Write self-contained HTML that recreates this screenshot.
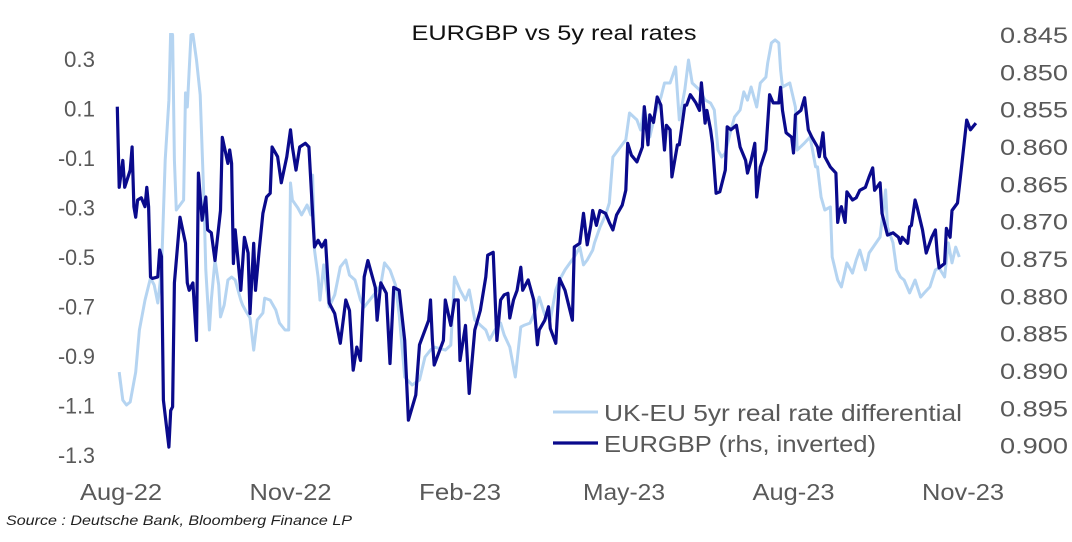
<!DOCTYPE html>
<html><head><meta charset="utf-8"><style>
html,body{margin:0;padding:0;background:#fff;width:1072px;height:542px;overflow:hidden}
svg{display:block;font-family:"Liberation Sans",Arial,sans-serif}
</style></head><body>
<svg id="chart" width="1072" height="542" viewBox="0 0 1072 542">
<defs><clipPath id="plotclip"><rect x="110" y="33" width="880" height="430"/></clipPath></defs>
<text x="554" y="40" text-anchor="middle" font-size="21" textLength="285" lengthAdjust="spacingAndGlyphs" fill="#111">EURGBP vs 5y real rates</text>
<g id="yl"></g>
<g id="yr"></g>
<g id="xa"></g>
<g clip-path="url(#plotclip)">
<path id="lightLine" fill="none" stroke="#b5d4f1" stroke-width="3" stroke-linejoin="round"/>
<path id="darkLine" fill="none" stroke="#0a0a8c" stroke-width="3.2" stroke-linejoin="round"/>
</g>
<g>
<g>
<line x1="553" y1="412" x2="598" y2="412" stroke="#b5d4f1" stroke-width="3"/>
<text x="604" y="421" font-size="23" textLength="358" lengthAdjust="spacingAndGlyphs" fill="#595959">UK-EU 5yr real rate differential</text></g>
<g>
<line x1="553" y1="443" x2="598" y2="443" stroke="#0a0a8c" stroke-width="3.2"/>
<text x="604" y="452" font-size="23" textLength="272" lengthAdjust="spacingAndGlyphs" fill="#595959">EURGBP (rhs, inverted)</text></g>
</g>
<text x="6" y="525" font-size="14" font-style="italic" textLength="346" lengthAdjust="spacingAndGlyphs" fill="#222">Source : Deutsche Bank, Bloomberg Finance LP</text>
</svg>
<script>
const xTickDays=[0,92,184,273,365,457];
const xTickLabels=["Aug-22","Nov-22","Feb-23","May-23","Aug-23","Nov-23"];
const leftTicks=[0.3,0.1,-0.1,-0.3,-0.5,-0.7,-0.9,-1.1,-1.3];
const rightTicks=[0.845,0.850,0.855,0.860,0.865,0.870,0.875,0.880,0.885,0.890,0.895,0.900];
const diffDays=[-1,1,3,5,8,10,13,16,18,20,22,24,26,27,28,29,30,32,34,35,36,38,39,41,43,45,46,48,49,51,53,54,56,58,60,62,65,66,68,70,72,74,77,78,81,84,86,89,91,92,93,96,98,101,103,104,105,107,108,110,111,113,116,119,122,124,127,130,132,135,138,141,143,146,149,151,154,158,162,165,168,170,176,179,181,184,187,189,192,195,198,200,203,206,208,211,214,217,219,222,225,227,230,233,236,238,241,244,246,249,251,253,256,257,260,263,265,267,271,274,276,280,282,284,287,290,293,295,298,301,303,306,308,310,314,317,320,322,324,326,328,331,333,336,338,340,342,345,347,350,351,353,355,357,358,359,363,366,367,371,374,377,378,380,382,385,386,389,391,394,397,399,401,404,406,412,415,416,419,421,423,425,428,431,434,436,439,442,444,447,449,451,453,455];
const diffValues=[-0.965,-1.078,-1.098,-1.086,-0.965,-0.795,-0.674,-0.585,-0.613,-0.686,-0.552,-0.108,0.134,0.417,0.397,-0.108,-0.310,-0.290,-0.270,0.163,0.106,0.397,0.40,0.296,0.155,-0.270,-0.552,-0.795,-0.674,-0.512,-0.613,-0.742,-0.694,-0.593,-0.581,-0.593,-0.674,-0.694,-0.722,-0.746,-0.876,-0.754,-0.726,-0.666,-0.674,-0.714,-0.767,-0.795,-0.795,-0.201,-0.270,-0.302,-0.330,-0.290,-0.330,-0.169,-0.472,-0.581,-0.674,-0.532,-0.593,-0.702,-0.653,-0.540,-0.512,-0.573,-0.593,-0.674,-0.702,-0.674,-0.645,-0.613,-0.524,-0.552,-0.613,-0.734,-0.985,-1.017,-0.997,-0.904,-0.876,-0.864,-0.876,-0.856,-0.581,-0.633,-0.674,-0.633,-0.754,-0.775,-0.795,-0.835,-0.795,-0.767,-0.815,-0.864,-0.985,-0.783,-0.775,-0.767,-0.714,-0.662,-0.734,-0.754,-0.633,-0.593,-0.552,-0.520,-0.500,-0.460,-0.532,-0.512,-0.472,-0.443,-0.379,-0.330,-0.282,-0.096,-0.056,-0.027,0.082,0.054,0.013,0.106,-0.015,0.082,0.146,0.203,0.203,0.268,0.054,0.175,0.296,0.203,0.175,0.134,0.122,0.094,-0.068,-0.096,-0.080,0.013,0.066,0.094,0.167,0.134,0.187,0.106,0.203,0.227,0.284,0.365,0.377,0.365,0.256,0.187,0.203,0.106,-0.068,-0.039,-0.015,-0.136,-0.136,-0.258,-0.310,-0.298,-0.500,-0.593,-0.621,-0.524,-0.565,-0.512,-0.472,-0.552,-0.484,-0.419,-0.229,-0.379,-0.443,-0.552,-0.581,-0.593,-0.645,-0.593,-0.662,-0.645,-0.621,-0.552,-0.544,-0.581,-0.443,-0.524,-0.460,-0.500];
const fxDays=[-2,-1,1,2,5,6,7,8,9,11,13,14,15,16,17,20,21,22,23,26,27,28,29,32,35,36,37,39,41,42,44,46,47,49,51,54,55,58,59,60,61,62,65,67,69,70,72,73,75,77,79,81,82,85,87,90,92,93,95,97,100,102,105,107,109,111,113,116,119,122,124,126,128,130,132,134,138,139,141,144,146,148,151,154,156,160,162,167,168,169,170,173,175,176,179,181,183,184,187,189,192,195,198,199,202,204,206,208,210,211,213,215,217,218,221,224,226,227,230,232,233,236,238,241,245,246,249,251,253,255,256,258,260,263,265,267,269,272,274,275,277,280,283,284,286,287,289,291,293,295,296,298,299,302,303,306,307,309,312,314,315,317,318,320,321,323,325,328,329,331,334,336,339,340,342,344,345,347,350,352,354,357,358,359,361,364,365,366,369,371,373,375,378,379,381,382,385,388,389,390,391,393,394,397,399,401,404,406,408,409,412,413,416,419,422,423,424,427,428,429,431,432,435,437,440,442,443,444,447,448,450,451,454,456,459,461,464];
const fxValues=[0.8546,0.8654,0.8618,0.8654,0.8631,0.8600,0.8680,0.8694,0.8671,0.8668,0.8680,0.8654,0.8680,0.8774,0.8776,0.8774,0.8738,0.8747,0.8939,0.9002,0.8953,0.8948,0.8782,0.8694,0.8729,0.8782,0.8792,0.8782,0.8859,0.8635,0.8698,0.8667,0.8711,0.8715,0.8752,0.8685,0.8587,0.8622,0.8604,0.8622,0.8756,0.8711,0.8792,0.8721,0.8742,0.8823,0.8729,0.8792,0.8738,0.8689,0.8667,0.8662,0.8600,0.8613,0.8648,0.8613,0.8577,0.8600,0.8631,0.8600,0.8595,0.8600,0.8734,0.8725,0.8734,0.8725,0.8809,0.8823,0.8863,0.8805,0.8819,0.8899,0.8868,0.8886,0.8774,0.8752,0.8788,0.8832,0.8782,0.8796,0.8890,0.8788,0.8792,0.8859,0.8966,0.8932,0.8865,0.8832,0.8805,0.8859,0.8892,0.8872,0.8859,0.8805,0.8839,0.8805,0.8805,0.8886,0.8839,0.8930,0.8845,0.8819,0.8774,0.8745,0.8741,0.8859,0.8805,0.8798,0.8796,0.8829,0.8805,0.8792,0.8761,0.8792,0.8778,0.8805,0.8865,0.8845,0.8832,0.8814,0.8843,0.8863,0.8776,0.8792,0.8832,0.8734,0.8729,0.8689,0.8731,0.8705,0.8685,0.8705,0.8685,0.8689,0.8701,0.8711,0.8691,0.8678,0.8658,0.8595,0.8611,0.8620,0.8600,0.8546,0.8597,0.8557,0.8567,0.8533,0.8544,0.8604,0.8571,0.8577,0.8640,0.8597,0.8597,0.8544,0.8544,0.8530,0.8541,0.8551,0.8514,0.8568,0.8551,0.8577,0.8595,0.8662,0.8660,0.8631,0.8573,0.8577,0.8571,0.8600,0.8618,0.8635,0.8618,0.8595,0.8667,0.8627,0.8604,0.8530,0.8541,0.8541,0.8520,0.8551,0.8581,0.8587,0.8608,0.8557,0.8551,0.8534,0.8577,0.8587,0.8600,0.8613,0.8581,0.8613,0.8627,0.8635,0.8701,0.8685,0.8680,0.8701,0.8660,0.8671,0.8668,0.8658,0.8654,0.8640,0.8628,0.8658,0.8648,0.8689,0.8718,0.8715,0.8721,0.8729,0.8721,0.8729,0.8707,0.8705,0.8671,0.8680,0.8711,0.8742,0.8721,0.8711,0.8742,0.8762,0.8756,0.8709,0.8721,0.8685,0.8675,0.8631,0.8564,0.8577,0.8568];

const xScale=d=>121+d*1.8425;
const yLeft=v=>59+(0.3-v)*247.5;
const yRight=r=>35+(r-0.845)*7466;
const NS="http://www.w3.org/2000/svg";
function mk(tag,attrs,text){const e=document.createElementNS(NS,tag);for(const k in attrs)e.setAttribute(k,attrs[k]);if(text!==undefined)e.textContent=text;return e;}
const yl=document.getElementById('yl');
leftTicks.forEach(v=>{
  const s=v.toFixed(1);
  const t=mk('text',{x:95,y:yLeft(v)+8,'text-anchor':'end','font-size':22,fill:'#595959',textLength:(s.length>3?37:31),lengthAdjust:'spacingAndGlyphs'},s);
  
  
  yl.appendChild(t);
});
const yr=document.getElementById('yr');
rightTicks.forEach(r=>{
  const t=mk('text',{x:1000,y:yRight(r)+8,'text-anchor':'start','font-size':22,fill:'#595959',textLength:68,lengthAdjust:'spacingAndGlyphs'},r.toFixed(3));
  
  
  yr.appendChild(t);
});
const xa=document.getElementById('xa');
xTickDays.forEach((d,i)=>{
  const t=mk('text',{x:xScale(d),y:500,'text-anchor':'middle','font-size':23,fill:'#595959',textLength:82,lengthAdjust:'spacingAndGlyphs'},xTickLabels[i]);
  
  
  xa.appendChild(t);
});
document.getElementById('lightLine').setAttribute('d',diffDays.map((d,i)=>(i?'L':'M')+xScale(d).toFixed(1)+','+yLeft(diffValues[i]).toFixed(1)).join(''));
document.getElementById('darkLine').setAttribute('d',fxDays.map((d,i)=>(i?'L':'M')+xScale(d).toFixed(1)+','+yRight(fxValues[i]).toFixed(1)).join(''));
</script>
</body></html>
